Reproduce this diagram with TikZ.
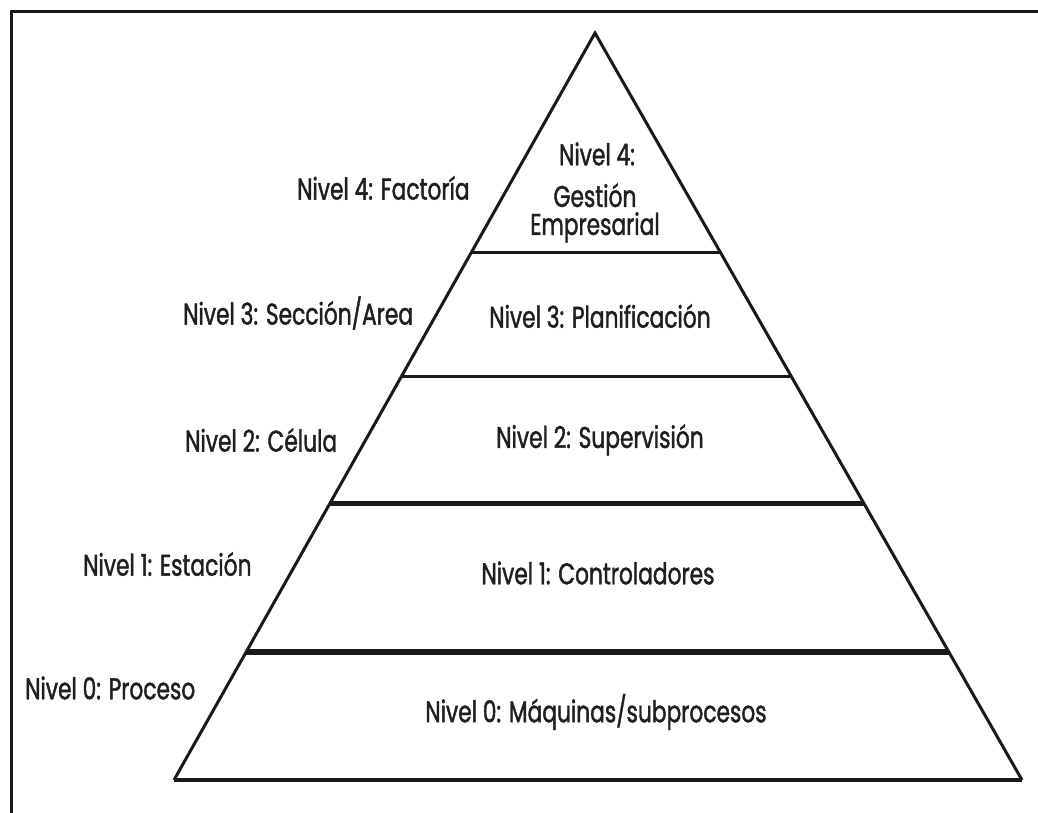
\documentclass[tikz,border=0pt]{standalone}
\usepackage{fontspec}
\usetikzlibrary{calc}
\setmainfont{Poppins}[FakeStretch=0.725,FakeBold=1.4]
\begin{document}
\begin{tikzpicture}[x=1pt,y=-1pt,
  lbl/.style={inner sep=0pt,font=\fontsize{30}{28}\selectfont,text=black!88},
  side/.style={line width=3pt,line join=miter,black!90},
  tier/.style={line width=#1,black!90},
  tier/.default=3pt,
  frame/.style={line width=3pt,black!90}]
\useasboundingbox (0,0) rectangle (1038,813);
% partial frame: top and left edges
\coordinate (f0) at (11,813);
\coordinate (f1) at (11,12);
\coordinate (f2) at (1038,12);
\draw[frame] (f0) -- (f1) -- (f2);

% pyramid outline
\coordinate (apex) at (595,33);
\coordinate (bl) at (174,780);
\coordinate (br) at (1022,780);
\draw[side] (bl) -- (apex) -- (br);
\draw[tier=4pt] (bl) -- (br);

% dividing lines between levels
\foreach \n/\yy/\w in {a/253/3pt, b/377/3pt, c/504/5pt, d/652/6pt}{
  \coordinate (\n L) at ($(apex)!{(\yy-33)/747}!(bl)$);
  \coordinate (\n R) at ($(apex)!{(\yy-33)/747}!(br)$);
  \draw[tier=\w] (\n L) -- (\n R);
}

% labels inside the pyramid
\node[lbl] (i4a) at (597,154) {Nivel 4:};
\node[lbl,align=center] (i4b) at (595,213) {Gestión\\Empresarial};
\node[lbl] (i3) at (600,316) {Nivel 3: Planificación};
\node[lbl] (i2) at (600,440) {Nivel 2: Supervisión};
\node[lbl] (i1) at (598,573) {Nivel 1: Controladores};
\node[lbl] (i0) at (596,712) {Nivel 0: Máquinas/subprocesos};

% labels outside the pyramid
\node[lbl,anchor=west] (o4) at (297,188) {Nivel 4: Factoría};
\node[lbl,anchor=west] (o3) at (183,313) {Nivel 3: Sección/Area};
\node[lbl,anchor=west] (o2) at (185,440) {Nivel 2: Célula};
\node[lbl,anchor=west] (o1) at (83,564) {Nivel 1: Estación};
\node[lbl,anchor=west] (o0) at (25,688) {Nivel 0: Proceso};
\end{tikzpicture}
\end{document}
